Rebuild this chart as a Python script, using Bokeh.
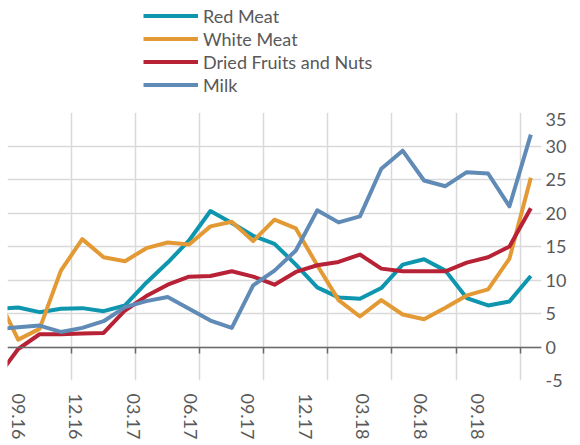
from bokeh.plotting import figure
from bokeh.layouts import column
from bokeh.models import (ColumnDataSource, FixedTicker, LinearAxis, Grid, Legend,
                          LegendItem, Range1d)
from bokeh.embed import file_html
from bokeh.resources import INLINE

# months since 09.16 (-1 = 08.16, partly visible at left edge)
months = list(range(-1, 25))
tick_labels = ["09.16", "12.16", "03.17", "06.17", "09.17", "12.17", "03.18", "06.18", "09.18"]
y_ticks = [-5, 0, 5, 10, 15, 20, 25, 30, 35]

red_meat = [5.7, 5.9, 5.2, 5.7, 5.8, 5.35, 6.2, 9.6, 12.6, 15.9, 20.3, 18.5, 16.6, 15.4,
            12.3, 8.9, 7.4, 7.2, 8.8, 12.3, 13.1, 11.4, 7.3, 6.2, 6.8, 10.6]
white_meat = [7.6, 1.1, 2.7, 11.4, 16.1, 13.4, 12.8, 14.75, 15.6, 15.3, 18.0, 18.7, 15.8, 19.0,
              17.7, 12.2, 7.0, 4.55, 7.0, 4.85, 4.15, 5.85, 7.7, 8.6, 13.2, 25.25]
dried_fruits = [-4.6, -0.3, 1.9, 1.9, 2.0, 2.1, 5.45, 7.6, 9.3, 10.5, 10.6, 11.3, 10.5, 9.3,
                11.2, 12.2, 12.7, 13.8, 11.7, 11.3, 11.3, 11.3, 12.6, 13.4, 15.0, 20.7]
milk = [2.65, 2.95, 3.2, 2.25, 2.85, 3.85, 5.95, 6.85, 7.45, 5.7, 3.95, 2.85, 9.2, 11.4,
        14.4, 20.4, 18.6, 19.5, 26.6, 29.3, 24.85, 24.0, 26.1, 25.9, 21.0, 31.7]

series = [("Red Meat", red_meat, "#0E96AE"),
          ("White Meat", white_meat, "#E39A34"),
          ("Dried Fruits and Nuts", dried_fruits, "#B72236"),
          ("Milk", milk, "#5F8BB6")]

FONT = "Lato"
TXT = "#595959"
GRID = "#d9d9d9"
LABEL_STRETCH = 0.896  # label spacing in the reference is tighter than the data spacing
X_START, X_END = -0.5, 24.5

# ---------- legend strip on top ----------
# its ranges lie far away from the data, so only the legend is seen
pl = figure(width=580, height=112, output_backend="svg", toolbar_location=None,
            x_range=Range1d(1000, 1001), y_range=Range1d(1000, 1001),
            x_axis_location=None, y_axis_location=None,
            min_border_left=0, min_border_right=0, min_border_top=0, min_border_bottom=0)
pl.outline_line_color = None
pl.xgrid.visible = False
pl.ygrid.visible = False

items = []
for name, vals, col in series:
    src = ColumnDataSource(dict(x=months, y=vals))
    r = pl.line("x", "y", source=src, line_color=col, line_width=4)
    items.append(LegendItem(label=name, renderers=[r]))

legend = Legend(items=items, location=(136, 16))
legend.border_line_color = None
legend.background_fill_alpha = 0
legend.padding = 0
legend.margin = 0
legend.spacing = 0
legend.glyph_width = 55
legend.glyph_height = 23
legend.label_height = 23
legend.label_standoff = 5
legend.label_text_font = FONT
legend.label_text_font_size = "18px"
legend.label_text_color = TXT
pl.add_layout(legend, "center")

# ---------- main chart ----------
p = figure(width=580, height=333, output_backend="svg", toolbar_location=None,
           x_range=Range1d(X_START, X_END), y_range=Range1d(-5, 35),
           x_axis_location=None, y_axis_location=None,
           min_border_left=7, min_border_top=0, min_border_right=39, min_border_bottom=65)
p.outline_line_color = None
p.xgrid.visible = False
p.ygrid.visible = False

p.add_layout(Grid(dimension=0, ticker=FixedTicker(ticks=[-0.5 + 3 * k for k in range(9)]),
                  grid_line_color=GRID, grid_line_width=1.5))
p.add_layout(Grid(dimension=1, ticker=FixedTicker(ticks=y_ticks),
                  grid_line_color=GRID, grid_line_width=1.5))

yax = LinearAxis(ticker=FixedTicker(ticks=y_ticks))
yax.major_label_overrides = {t: str(t) for t in y_ticks}
yax.axis_line_color = None
yax.major_tick_line_color = None
yax.minor_tick_line_color = None
yax.major_tick_out = 0
yax.major_label_standoff = 4
yax.major_label_text_font = FONT
yax.major_label_text_font_size = "18px"
yax.major_label_text_color = TXT
p.add_layout(yax, "right")

zax = LinearAxis(ticker=FixedTicker(ticks=[2.5 + 3 * k for k in range(8)]), fixed_location=0)
zax.axis_line_color = "#6a6a6a"
zax.axis_line_width = 1.5
zax.major_tick_line_color = "#6a6a6a"
zax.major_tick_line_width = 1.5
zax.major_tick_out = 6
zax.major_tick_in = 0
zax.minor_tick_line_color = None
zax.major_label_text_font_size = "0px"
zax.major_label_text_alpha = 0
p.add_layout(zax, "below")

pos = [3 * k * LABEL_STRETCH for k in range(len(tick_labels))]
xax = LinearAxis(ticker=FixedTicker(ticks=pos))
xax.major_label_overrides = {pos[k]: tick_labels[k] for k in range(len(tick_labels))}
xax.axis_line_color = None
xax.major_tick_line_color = None
xax.minor_tick_line_color = None
xax.major_tick_out = 0
xax.major_label_orientation = "vertical"
xax.major_label_standoff = 13
xax.major_label_text_font = FONT
xax.major_label_text_font_size = "18px"
xax.major_label_text_color = TXT
p.add_layout(xax, "below")

for name, vals, col in series:
    src = ColumnDataSource(dict(x=months, y=vals))
    p.line("x", "y", source=src, line_color=col, line_width=4, line_join="round")

layout = column(pl, p, spacing=0)
open("out.html", "w").write(file_html(layout, INLINE))
